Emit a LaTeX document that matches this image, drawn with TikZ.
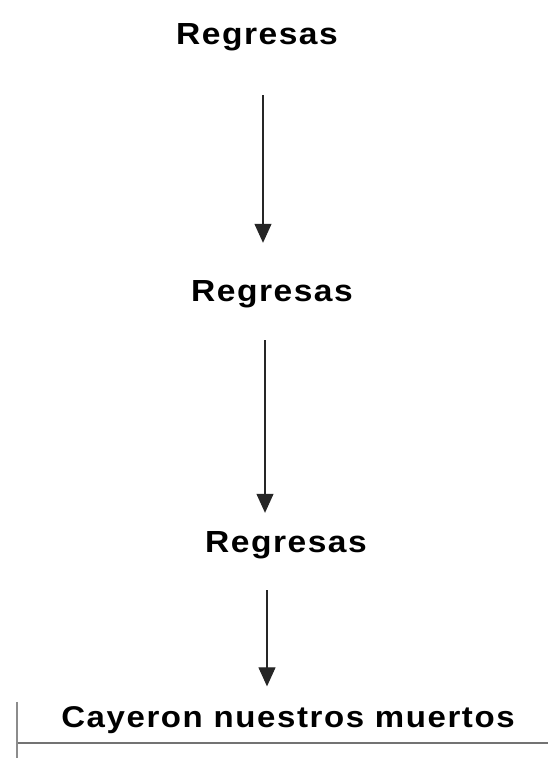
\documentclass[tikz,border=0pt]{standalone}
\usepackage{fontspec}
\usetikzlibrary{arrows.meta}
\newfontfamily\stepfont[FakeStretch=1.1, LetterSpace=5]{Liberation Sans Bold}
\newfontfamily\endfont[FakeStretch=1.1, LetterSpace=5.3]{Liberation Sans Bold}

\begin{document}
\begin{tikzpicture}[x=1pt, y=1pt,
		steplabel/.style={inner sep=0pt, anchor=base, font=\stepfont\fontsize{30.5}{34}\selectfont},
		endlabel/.style={inner sep=0pt, anchor=base, font=\endfont\fontsize{30}{34}\selectfont},
		flow/.style={line width=1.1pt, color=black!85, -{Triangle[width=17pt, length=19pt]}}]
		%%%%% START %%%%%
		\useasboundingbox (0, 0) rectangle (548, 758);
		
		\node[steplabel] (reg1) at (257, 713) {Regresas};
		\node[steplabel] (reg2) at (272, 456) {Regresas};
		\node[steplabel] (reg3) at (286, 205) {Regresas};
		\node[endlabel] (fall) at (288, 30) {Cayeron nuestros muertos};
		
		\draw[flow, shorten <=43.5pt, shorten >=38pt] ([xshift=6pt]reg1.south) -- ([xshift=-9pt]reg2.north);
		\draw[flow, shorten <=31.5pt, shorten >=19pt] ([xshift=-7pt]reg2.south) -- ([xshift=-21pt]reg3.north);
		\draw[flow, shorten <=30.5pt, shorten >=20.5pt] ([xshift=-19pt]reg3.south) -- ([xshift=-21pt]fall.north);
		
		% underline and left bar
		\draw[line width=1.6pt, color=black!55] (17, 15) -- (548, 15);
		\draw[line width=1.4pt, color=black!45] (17, 56) -- (17, 0);
		%%%%% END %%%%%
	\end{tikzpicture}
\end{document}
